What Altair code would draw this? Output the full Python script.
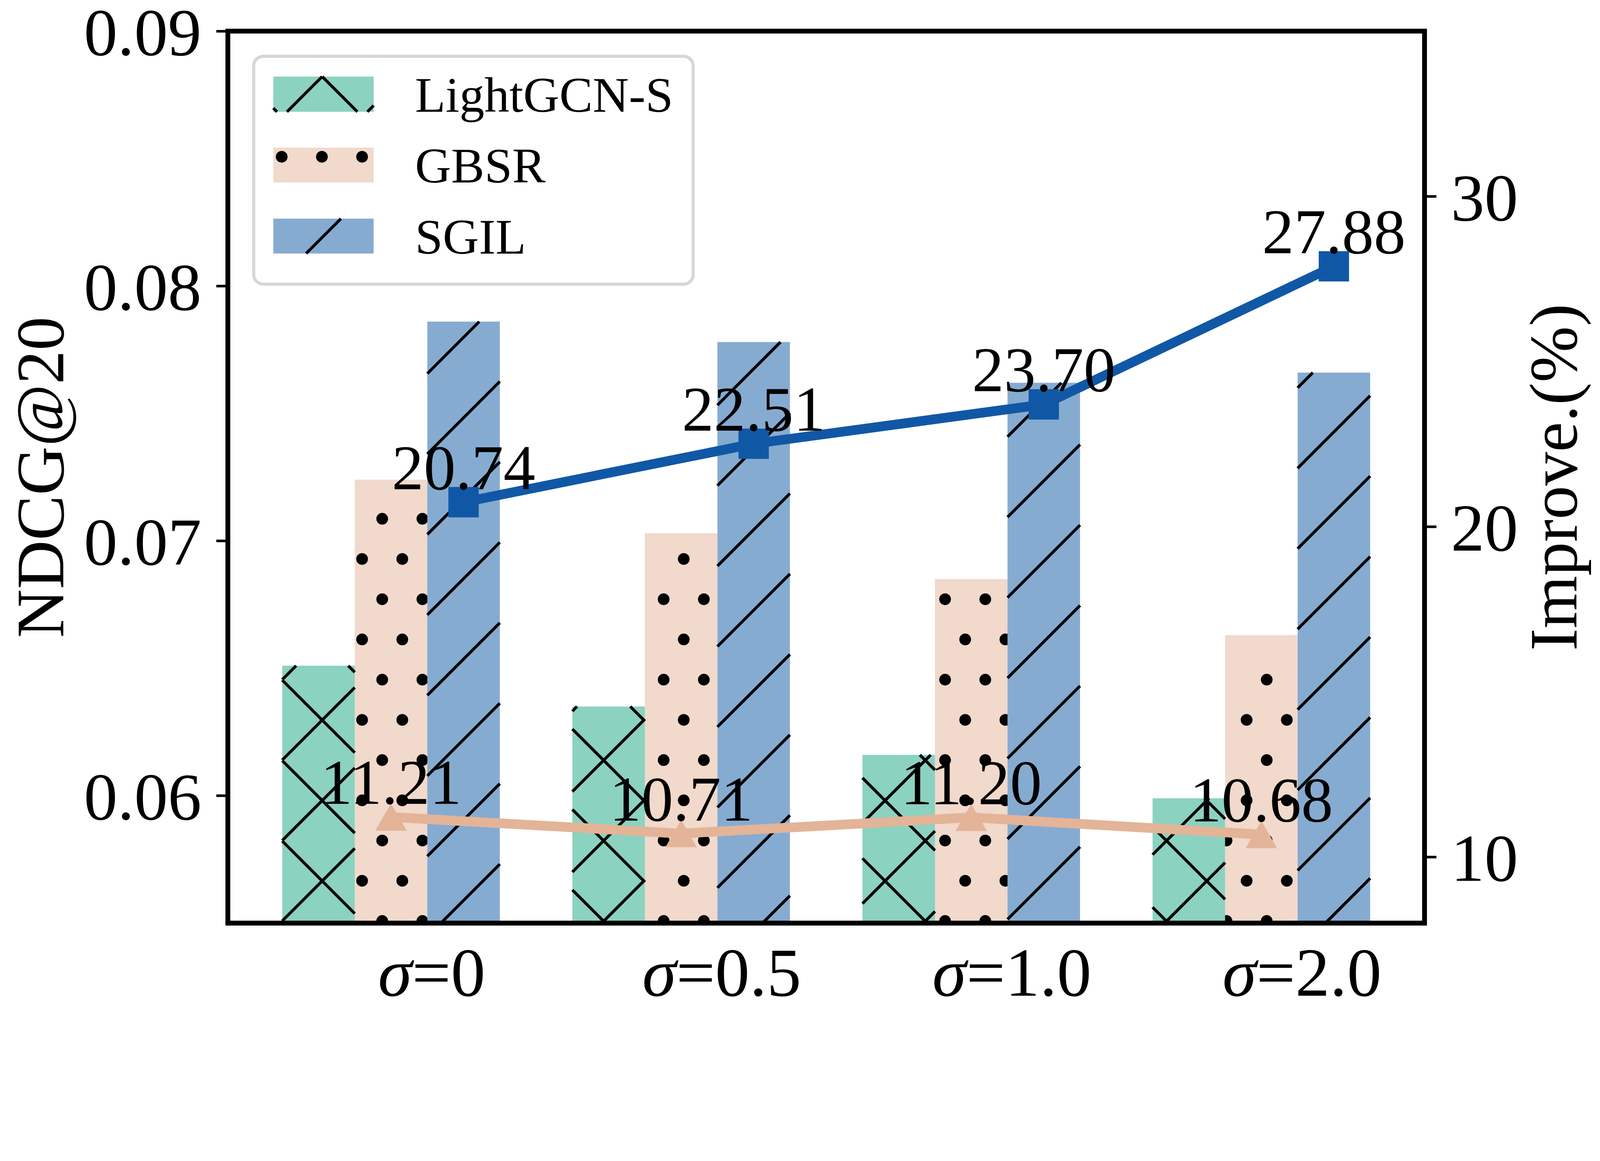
import math
import pandas as pd
import altair as alt

# ---------------- data ----------------
sigma_labels = ["0", "0.5", "1.0", "2.0"]
methods = ["LightGCN-S", "GBSR", "SGIL"]
ndcg_lightgcn = [0.0651, 0.0635, 0.0616, 0.0599]
ndcg_gbsr = [0.0724, 0.0703, 0.0685, 0.0663]
ndcg_sgil = [0.0786, 0.0778, 0.0762, 0.0766]
improve_sgil = [20.74, 22.51, 23.70, 27.88]
improve_gbsr = [11.21, 10.71, 11.20, 10.68]

# ---------------- style / layout ----------------
FONT = "Liberation Serif"
colors = {"LightGCN-S": "#8BD2C0", "GBSR": "#F1D9CB", "SGIL": "#86ABD1"}
LINE_BLUE = "#1058A6"
LINE_ORANGE = "#E3B497"
bar_offset = {"LightGCN-S": -0.5, "GBSR": -0.25, "SGIL": 0.0}
BAR_W = 0.25
W, H = 3472, 2587          # plot area
X0, Y0 = 660, 102          # plot origin in reference pixel space
PAD = {"left": X0 - 8, "top": -102, "right": 500, "bottom": 262}
XDOM = [-0.6875, 3.4375]
YL = [0.055, 0.09]
YR = [8, 35]

# hatch pattern (reference pixel space)
P = 233.3
C_SLASH = 1.0
C_BACK = 0.0
DOT_X, DOT_Y = 1049.5, 1633.0
DOT_R = 17.0
HATCH_LW = 8.5


def x2px(x):
    return X0 + (x - XDOM[0]) / (XDOM[1] - XDOM[0]) * W


def y2px(y):
    return Y0 + (YL[1] - y) / (YL[1] - YL[0]) * H


def px2x(X):
    return XDOM[0] + (X - X0) / W * (XDOM[1] - XDOM[0])


def px2y(Y):
    return YL[1] - (Y - Y0) / H * (YL[1] - YL[0])


def slash_segs(Xa, Xb, Ya, Yb):
    out = []
    k0 = math.floor((Xa + Ya - C_SLASH) / P) - 1
    k1 = math.ceil((Xb + Yb - C_SLASH) / P) + 1
    for k in range(k0, k1 + 1):
        c = C_SLASH + k * P
        lo = max(Xa, c - Yb)
        hi = min(Xb, c - Ya)
        if hi - lo > 0.5:
            out.append((lo, c - lo, hi, c - hi))
    return out


def back_segs(Xa, Xb, Ya, Yb):
    out = []
    k0 = math.floor((Ya - Xb - C_BACK) / P) - 1
    k1 = math.ceil((Yb - Xa - C_BACK) / P) + 1
    for k in range(k0, k1 + 1):
        d = C_BACK + k * P
        lo = max(Xa, Ya - d)
        hi = min(Xb, Yb - d)
        if hi - lo > 0.5:
            out.append((lo, lo + d, hi, hi + d))
    return out


def dot_centers(Xa, Xb, Ya, Yb):
    pts = []
    step = P / 2
    m0 = math.floor((Ya - DOT_Y) / step) - 1
    m1 = math.ceil((Yb - DOT_Y) / step) + 1
    for m in range(m0, m1 + 1):
        Y = DOT_Y + m * step
        xs0 = DOT_X + (step / 2 if m % 2 else 0.0)
        n0 = math.floor((Xa - xs0) / step) - 1
        n1 = math.ceil((Xb - xs0) / step) + 1
        for n in range(n0, n1 + 1):
            X = xs0 + n * step
            if Xa <= X <= Xb and Ya <= Y <= Yb + DOT_R:
                pts.append((X, Y))
    return pts


values = {"LightGCN-S": ndcg_lightgcn, "GBSR": ndcg_gbsr, "SGIL": ndcg_sgil}

bar_rows = []
for m in methods:
    for i, v in enumerate(values[m]):
        bar_rows.append({"method": m, "x0": i + bar_offset[m], "x1": i + bar_offset[m] + BAR_W,
                         "top": v, "base": YL[0]})
bars_df = pd.DataFrame(bar_rows)

hatch_rows = []
for m in ["LightGCN-S", "SGIL"]:
    for i, v in enumerate(values[m]):
        Xa, Xb = x2px(i + bar_offset[m]), x2px(i + bar_offset[m] + BAR_W)
        Ya, Yb = y2px(v), y2px(YL[0])
        segs = slash_segs(Xa, Xb, Ya, Yb)
        if m == "LightGCN-S":
            segs += back_segs(Xa, Xb, Ya, Yb)
        for (a, b, c, d) in segs:
            hatch_rows.append({"method": m, "x": px2x(a), "y": px2y(b), "x2": px2x(c), "y2": px2y(d)})

dot_rows = []
for i, v in enumerate(ndcg_gbsr):
    Xa, Xb = x2px(i - 0.25), x2px(i)
    Ya, Yb = y2px(v), y2px(YL[0])
    left_top = y2px(ndcg_lightgcn[i])
    right_top = y2px(ndcg_sgil[i])
    for (X, Y) in dot_centers(Xa, Xb, Ya + DOT_R - 4, Yb):
        if X - DOT_R < Xa and Y - DOT_R < left_top:
            continue
        if X + DOT_R > Xb and Y - DOT_R < right_top:
            continue
        dot_rows.append({"x": px2x(X), "y": px2y(Y)})

LEG_FRAME = (735, 2010, 175, 836)
LEG_PATCH_X = (792, 1083)
LEG_PATCH_Y = [(234, 336), (440, 541), (646, 747)]
LEG_TEXT_X = 1203
leg_rows = []
leg_hatch_rows = []
leg_dot_rows = []
for m, (ya, yb) in zip(methods, LEG_PATCH_Y):
    leg_rows.append({"method": m, "x0": px2x(LEG_PATCH_X[0]), "x1": px2x(LEG_PATCH_X[1]),
                     "top": px2y(ya), "base": px2y(yb), "tx": px2x(LEG_TEXT_X), "ty": px2y(yb)})
    Xa, Xb = LEG_PATCH_X
    if m in ("LightGCN-S", "SGIL"):
        segs = slash_segs(Xa, Xb, ya, yb)
        if m == "LightGCN-S":
            segs += back_segs(Xa, Xb, ya, yb)
        for (a, b, c, d) in segs:
            leg_hatch_rows.append({"method": "legend", "x": px2x(a), "y": px2y(b), "x2": px2x(c), "y2": px2y(d)})
    else:
        for (X, Y) in dot_centers(Xa, Xb, ya, yb):
            if X - DOT_R >= Xa and X + DOT_R <= Xb and Y - DOT_R >= ya and Y + DOT_R <= yb:
                leg_dot_rows.append({"x": px2x(X), "y": px2y(Y)})
leg_df = pd.DataFrame(leg_rows)
frame_df = pd.DataFrame([{"x0": px2x(LEG_FRAME[0]), "x1": px2x(LEG_FRAME[1]),
                          "top": px2y(LEG_FRAME[2]), "base": px2y(LEG_FRAME[3])}])

hatch_df = pd.DataFrame(hatch_rows + leg_hatch_rows)
dots_df = pd.DataFrame(dot_rows)
leg_dots_df = pd.DataFrame(leg_dot_rows)

line_rows = []
for i in range(4):
    line_rows.append({"series": "SGIL", "xl": i + 0.125, "val": improve_sgil[i], "label": f"{improve_sgil[i]:.2f}"})
    line_rows.append({"series": "GBSR", "xl": i - 0.125, "val": improve_gbsr[i], "label": f"{improve_gbsr[i]:.2f}"})
lines_df = pd.DataFrame(line_rows)

TICK_FS = 200
YTICK_FS = 195
glyph_w = {"=": 0.564, ".": 0.25}
SIGMA_W = 0.62
xl_rows = []
for i, s in enumerate(sigma_labels):
    rest = "=" + s
    rest_w = sum(glyph_w.get(ch, 0.5) for ch in rest)
    split_px = (SIGMA_W - rest_w) / 2 * TICK_FS
    xl_rows.append({"xs": i + split_px / (W / (XDOM[1] - XDOM[0])), "rest": rest})
xlab_df = pd.DataFrame(xl_rows)


def xs():
    return alt.Scale(domain=XDOM, nice=False, zero=False)


def yls():
    return alt.Scale(domain=YL, nice=False, zero=False)


def yrs():
    return alt.Scale(domain=YR, nice=False, zero=False)


x_axis = alt.Axis(values=[0, 1, 2, 3], labels=False, ticks=True, tickSize=34, tickWidth=7.5,
                  tickColor="black", domain=False, grid=False, title="")
yl_axis = alt.Axis(values=[0.06, 0.07, 0.08, 0.09], format=".2f", orient="left", labelFont=FONT,
                   labelFontSize=YTICK_FS, labelColor="black", labelPadding=43, labelOffset=10,
                   labelLimit=2000, tickSize=34, tickWidth=7.5, tickColor="black", domain=False, grid=False,
                   title="NDCG@20", titleFont=FONT, titleFontSize=196, titleFontWeight="normal",
                   titleColor="black", titleAngle=270, titleX=-478, titleY=H / 2, titleAlign="center",
                   titleBaseline="alphabetic", titleLimit=3000)
yr_axis = alt.Axis(values=[10, 20, 30], format="d", orient="right", labelFont=FONT, labelFontSize=YTICK_FS,
                   labelColor="black", labelPadding=42, labelOffset=10, labelLimit=2000, tickSize=34,
                   tickWidth=7.5, tickColor="black", domain=False, grid=False, title="Improve.(%)",
                   titleFont=FONT, titleFontSize=196, titleFontWeight="normal", titleColor="black",
                   titleAngle=270, titleX=441, titleY=H / 2, titleAlign="center", titleBaseline="alphabetic",
                   titleLimit=3000)


def rect_layer(df, fill, with_axes=False, **kw):
    return alt.Chart(df).mark_rect(color=fill, strokeWidth=0, **kw).encode(
        x=alt.X("x0:Q", scale=xs(), axis=x_axis if with_axes else None),
        x2="x1:Q",
        y=alt.Y("top:Q", scale=yls(), axis=yl_axis if with_axes else None),
        y2="base:Q",
    )


def bar_layer(m, with_axes=False):
    return rect_layer(bars_df[bars_df.method == m], colors[m], with_axes)


def hatch_layer(m):
    return alt.Chart(hatch_df[hatch_df.method == m]).mark_rule(color="black", strokeWidth=HATCH_LW).encode(
        x=alt.X("x:Q", scale=xs(), axis=None), y=alt.Y("y:Q", scale=yls(), axis=None),
        x2="x2:Q", y2="y2:Q",
    )


def dot_layer(df, clip):
    return alt.Chart(df).mark_circle(size=(2 * DOT_R) ** 2, color="black", opacity=1, clip=clip).encode(
        x=alt.X("x:Q", scale=xs(), axis=None), y=alt.Y("y:Q", scale=yls(), axis=None)
    )


leg_frame = alt.Chart(frame_df).mark_rect(
    fill="white", fillOpacity=0.8, stroke="#D6D6D6", strokeWidth=9, cornerRadius=28
).encode(
    x=alt.X("x0:Q", scale=xs(), axis=None), x2="x1:Q",
    y=alt.Y("top:Q", scale=yls(), axis=None), y2="base:Q",
)
leg_patches = [rect_layer(leg_df[leg_df.method == m], colors[m]) for m in methods]
leg_text = alt.Chart(leg_df).mark_text(
    font=FONT, fontSize=145, align="left", baseline="alphabetic", color="black"
).encode(
    x=alt.X("tx:Q", scale=xs(), axis=None), y=alt.Y("ty:Q", scale=yls(), axis=None), text="method:N"
)

xlab_sigma = alt.Chart(xlab_df).mark_text(
    font=FONT, fontSize=TICK_FS, fontStyle="italic", align="right", baseline="alphabetic", color="black"
).encode(x=alt.X("xs:Q", scale=xs(), axis=None), y=alt.value(H + 210), text=alt.value("σ"))
xlab_rest = alt.Chart(xlab_df).mark_text(
    font=FONT, fontSize=TICK_FS, align="left", baseline="alphabetic", color="black"
).encode(x=alt.X("xs:Q", scale=xs(), axis=None), y=alt.value(H + 210), text="rest:N")


def series_df(s):
    return lines_df[lines_df.series == s]


orange_line = alt.Chart(series_df("GBSR")).mark_line(color=LINE_ORANGE, strokeWidth=28).encode(
    x=alt.X("xl:Q", scale=xs(), axis=None), y=alt.Y("val:Q", scale=yrs(), axis=yr_axis))
orange_pts = alt.Chart(series_df("GBSR")).mark_point(
    shape="triangle-up", size=8300, filled=True, color=LINE_ORANGE, opacity=1
).encode(x=alt.X("xl:Q", scale=xs(), axis=None), y=alt.Y("val:Q", scale=yrs(), axis=None))
blue_line = alt.Chart(series_df("SGIL")).mark_line(color=LINE_BLUE, strokeWidth=28).encode(
    x=alt.X("xl:Q", scale=xs(), axis=None), y=alt.Y("val:Q", scale=yrs(), axis=None))
blue_pts = alt.Chart(series_df("SGIL")).mark_point(
    shape="square", size=7744, filled=True, color=LINE_BLUE, opacity=1
).encode(x=alt.X("xl:Q", scale=xs(), axis=None), y=alt.Y("val:Q", scale=yrs(), axis=None))
val_text = alt.Chart(lines_df).mark_text(
    font=FONT, fontSize=185, align="center", baseline="alphabetic", dy=-38, color="black"
).encode(x=alt.X("xl:Q", scale=xs(), axis=None), y=alt.Y("val:Q", scale=yrs(), axis=None), text="label:N")

frame = alt.Chart(frame_df).mark_rect(filled=False, stroke="black", strokeWidth=14).encode(
    x=alt.value(0), x2=alt.value(W), y=alt.value(0), y2=alt.value(H)
)

chart = alt.layer(
    bar_layer("GBSR", with_axes=True),
    dot_layer(dots_df, True),
    bar_layer("LightGCN-S"),
    hatch_layer("LightGCN-S"),
    bar_layer("SGIL"),
    hatch_layer("SGIL"),
    orange_line, orange_pts, blue_line, blue_pts, val_text,
    leg_frame, *leg_patches, hatch_layer("legend"), dot_layer(leg_dots_df, False), leg_text,
    xlab_sigma, xlab_rest,
    frame,
).resolve_scale(y="independent").properties(
    width=W, height=H, padding=PAD, autosize=alt.AutoSizeParams(type="none"), background="white"
).configure_view(strokeWidth=0)

chart.save("out.html", embed_options={"renderer": "svg", "actions": False})
